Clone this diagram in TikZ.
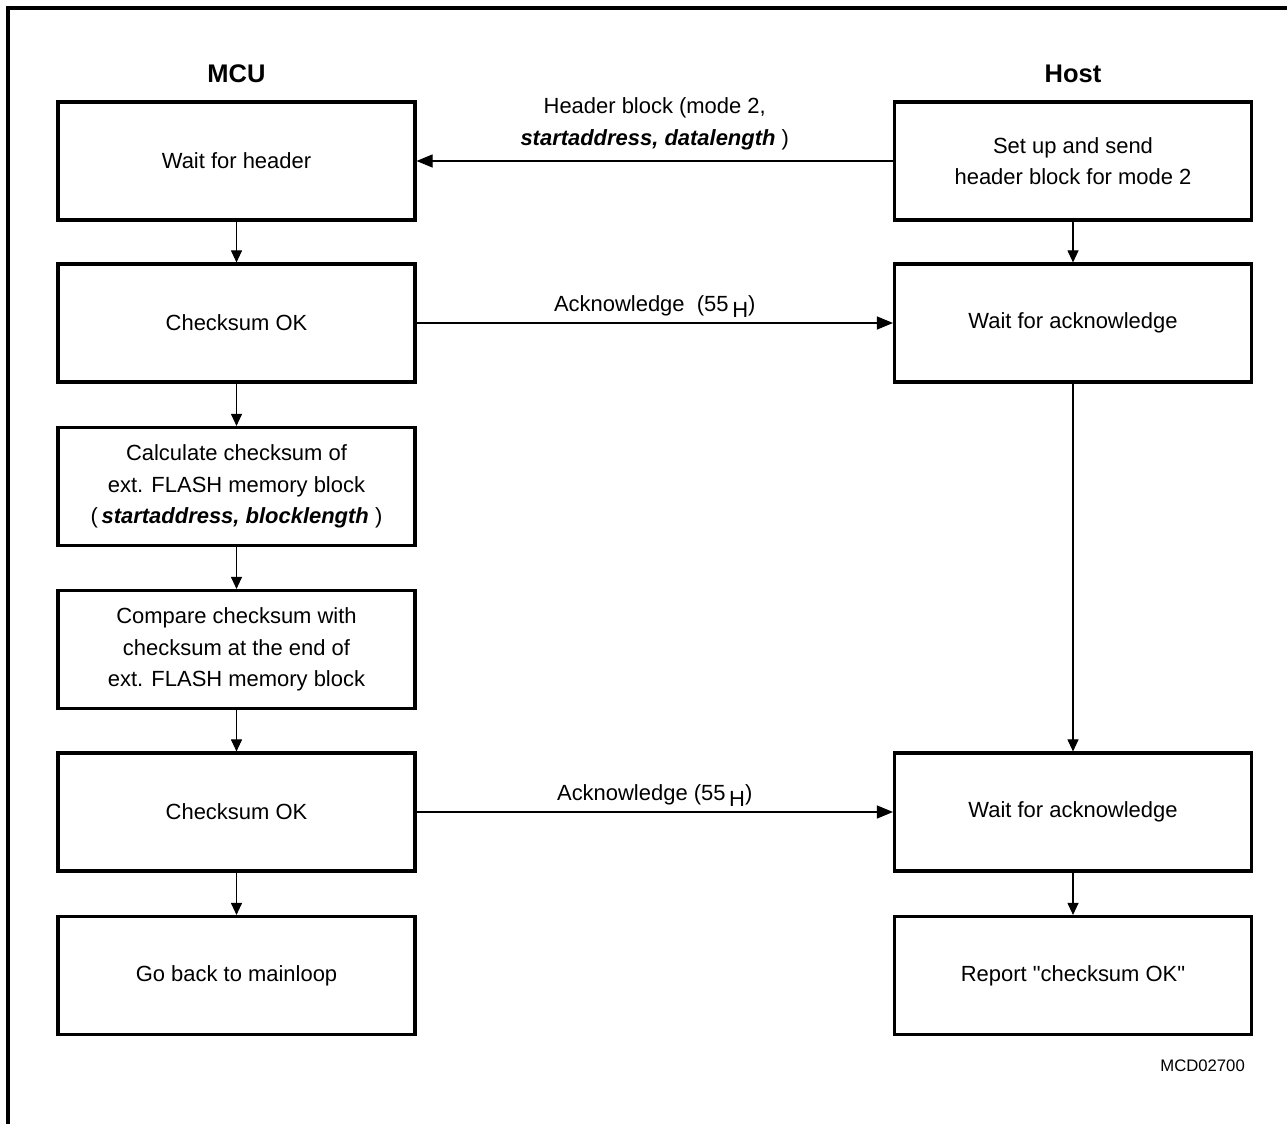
\documentclass[tikz,border=0pt]{standalone}
\usepackage{fontspec}
\setmainfont{Liberation Sans}[Ligatures=TeXOff]
\usetikzlibrary{arrows.meta}
\tikzset{
  every picture/.style={font=\fontsize{12.5}{18}\selectfont},
  box/.style={draw, line width=1.8pt, align=center, minimum width=7.14cm, minimum height=2.36cm, inner sep=2pt},
  down/.style={-{Triangle[length=2.4mm, width=2.2mm]}, line width=0.6pt},
  msg/.style={-{Triangle[length=3.2mm, width=2.6mm]}, line width=0.6pt},
  head/.style={font=\fontsize{14.5}{17}\selectfont\bfseries},
  lbl/.style={align=center, inner sep=3pt},
}
\newcommand{\hex}{\,\raisebox{-0.45ex}{H}}
\begin{document}
\begin{tikzpicture}[x=0.02cm, y=-0.02cm]
  \useasboundingbox (0,0) rectangle (1287,1124);
  % frame
  \draw[line width=1.8pt] (8,1124) -- (8,8) -- (1287,8);
  % column titles
  \node[head] (mcu) at (236.5,74) {MCU};
  \node[head] (host) at (1073,74) {Host};
  % MCU side
  \node[box] (wait) at (236.5,161) {Wait for header};
  \node[box] (ok1) at (236.5,323) {Checksum OK};
  \node[box] (calc) at (236.5,486.5) {Calculate checksum of\\ext. FLASH memory block\\(\,\textbf{\textit{startaddress, blocklength}}\ )};
  \node[box] (cmp) at (236.5,649.5) {Compare checksum with\\checksum at the end of\\ext. FLASH memory block};
  \node[box] (ok2) at (236.5,812) {Checksum OK};
  \node[box] (back) at (236.5,975.5) {Go back to mainloop};
  % Host side
  \node[box] (setup) at (1073,161) {Set up and send\\header block for mode 2};
  \node[box] (ack1) at (1073,323) {Wait for acknowledge};
  \node[box] (ack2) at (1073,812) {Wait for acknowledge};
  \node[box] (rep) at (1073,975.5) {Report "checksum OK"};
  \node[anchor=east, font=\fontsize{9.5}{11}\selectfont] (id) at (1251,1066) {MCD02700};
  % flow
  \draw[down] (wait) -- (ok1);
  \draw[down] (ok1) -- (calc);
  \draw[down] (calc) -- (cmp);
  \draw[down] (cmp) -- (ok2);
  \draw[down] (ok2) -- (back);
  \draw[down] (setup) -- (ack1);
  \draw[down] (ack1) -- (ack2);
  \draw[down] (ack2) -- (rep);
  % messages
  \draw[msg] (setup) -- node[lbl, above, inner sep=6pt] {Header block (mode 2,\\\textbf{\textit{startaddress, datalength}}\ )} (wait);
  \draw[msg] (ok1) -- node[lbl, above] {Acknowledge\ \ (55\hex)} (ack1);
  \draw[msg] (ok2) -- node[lbl, above] {Acknowledge\ (55\hex)} (ack2);
\end{tikzpicture}
\end{document}
